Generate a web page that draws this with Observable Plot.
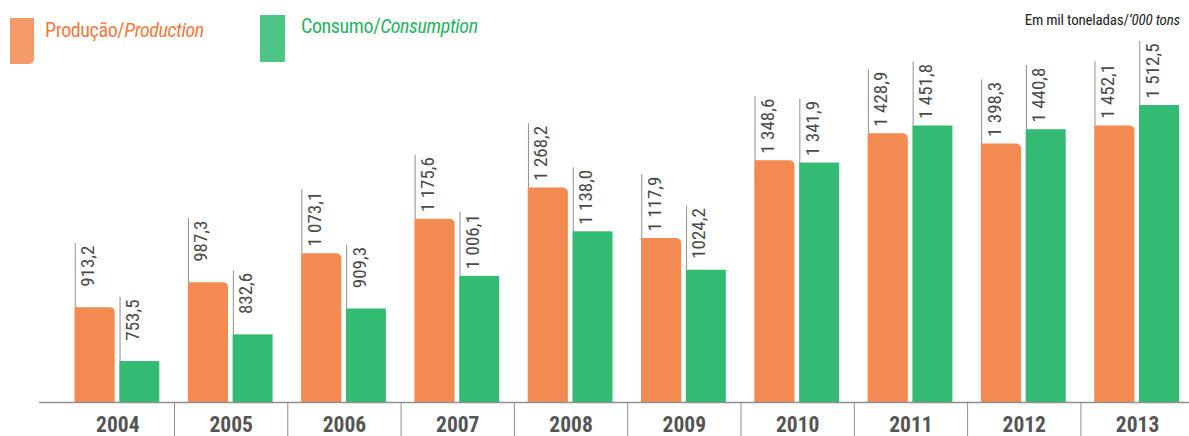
<!DOCTYPE html>
<html>
<head>
<meta charset="utf-8">
<script src="https://cdn.jsdelivr.net/npm/d3@7"></script>
<script src="https://cdn.jsdelivr.net/npm/@observablehq/plot@0.6"></script>
<style>
  body { margin: 0; background: #fff; }
  #wrap { position: relative; width: 1189px; height: 436px; overflow: hidden;
          font-family: 'Liberation Sans Narrow', 'Roboto Condensed', Roboto, sans-serif; }
  #chart { position: absolute; left: 0; top: 0; }
  .sw { position: absolute; }
  .lg { position: absolute; white-space: nowrap; line-height: 1; }
</style>
</head>
<body>
<div id="wrap">
  <div id="chart"></div>
  <div class="sw" style="left:10px;top:18px;width:24px;height:46px;background:#f4996a;border-bottom-right-radius:5px;"></div>
  <div class="lg" style="left:45px;top:19.5px;font-size:20px;letter-spacing:-0.4px;color:#f07a3e;">Produção/<i>Production</i></div>
  <div class="sw" style="left:260px;top:15px;width:25px;height:47px;background:#4cc585;"></div>
  <div class="lg" style="left:301px;top:16px;font-size:20px;letter-spacing:-0.4px;color:#28b262;">Consumo/<i>Consumption</i></div>
  <div class="lg" style="right:9px;top:13px;font-size:15px;letter-spacing:-0.2px;color:#222;">Em mil toneladas/<i>‘000 tons</i></div>
</div>
<script>
const years = ["2004","2005","2006","2007","2008","2009","2010","2011","2012","2013"];
const production = [913.2, 987.3, 1073.1, 1175.6, 1268.2, 1117.9, 1348.6, 1428.9, 1398.3, 1452.1];
const consumption = [753.5, 832.6, 909.3, 1006.1, 1138.0, 1024.2, 1341.9, 1451.8, 1440.8, 1512.5];
const productionLabels = ["913,2","987,3","1 073,1","1 175,6","1 268,2","1 117,9","1 348,6","1 428,9","1 398,3","1 452,1"];
const consumptionLabels = ["753,5","832,6","909,3","1 006,1","1 138,0","1024,2","1 341,9","1 451,8","1 440,8","1 512,5"];

const FONT = "'Liberation Sans Narrow', 'Roboto Condensed', Roboto, sans-serif";
const yMin = 632, yMax = 1600;
const leader = 190; // leader line length above bar, in data units

const prodRows = years.map((y, i) => ({year: y, value: production[i], label: productionLabels[i]}));
const consRows = years.map((y, i) => ({year: y, value: consumption[i], label: consumptionLabels[i]}));

const orange = "#f28a52", green = "#33bb73", gray = "#8f8f8f", textGray = "#4a4a4a";
const half = 113.3 / 2;

const chart = Plot.plot({
  width: 1189,
  height: 436,
  marginLeft: 39,
  marginRight: 0,
  marginTop: 75.5,
  marginBottom: 34,
  style: {fontFamily: FONT, background: "transparent"},
  x: {type: "band", domain: years, range: [60.7, 1193.7], padding: 0, round: false},
  y: {domain: [yMin, yMax], axis: null},
  marks: [
    // leader lines
    Plot.ruleX(prodRows, {x: "year", y1: "value", y2: d => d.value + leader, dx: -42.6, stroke: gray, strokeWidth: 1}),
    Plot.ruleX(consRows, {x: "year", y1: "value", y2: d => d.value + leader, dx: 2.2, stroke: gray, strokeWidth: 1}),
    // bars
    Plot.barY(prodRows, {x: "year", y1: yMin, y2: "value", insetLeft: 13.8, insetRight: 59.3, fill: orange, rx2y1: 5}),
    Plot.barY(consRows, {x: "year", y1: yMin, y2: "value", insetLeft: 58.6, insetRight: 14.7, fill: green}),
    // value labels
    Plot.text(prodRows, {x: "year", y: d => d.value + leader, text: "label", rotate: -90, textAnchor: "end", lineAnchor: "top",
      dx: -37.2, dy: 2, fontSize: 19, fill: textGray, fontFamily: FONT}),
    Plot.text(consRows, {x: "year", y: d => d.value + leader, text: "label", rotate: -90, textAnchor: "end", lineAnchor: "top",
      dx: 7.6, dy: 2, fontSize: 19, fill: textGray, fontFamily: FONT}),
    // baseline
    Plot.ruleY([yMin], {stroke: gray, strokeWidth: 1.5}),
    // group separators
    Plot.axisX({ticks: years.slice(1), tickSize: 34, tickFormat: () => "", dx: -half, color: gray, label: null}),
    // year labels
    Plot.axisX({tickSize: 0, tickPadding: 14, fontSize: 21.5, fontWeight: "bold", color: "#555", fontFamily: FONT, label: null})
  ]
});
document.getElementById("chart").appendChild(chart);
</script>
</body>
</html>
